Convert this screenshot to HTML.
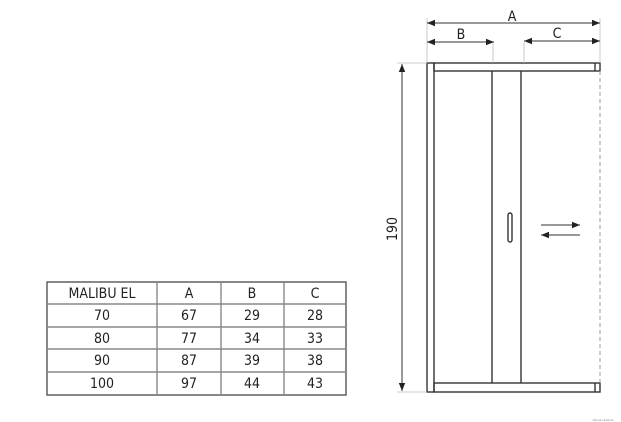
<!DOCTYPE html>
<html><head><style>
body{margin:0;background:#fff;width:621px;height:422px;overflow:hidden;font-family:"DejaVu Sans Condensed","Liberation Sans",sans-serif}
</style></head><body>
<svg width="621" height="422" viewBox="0 0 621 422" style="position:absolute;left:0;top:0">
<defs>
<marker id="a" viewBox="0 0 10 10" refX="10" refY="5" markerWidth="8" markerHeight="8" orient="auto-start-reverse"><path d="M0,1 L10,5 L0,9z" fill="#222"/></marker>
</defs>
<g stroke="#333" fill="none" stroke-width="1.4">
<rect x="47" y="282" width="299" height="113" stroke="#555"/>
<g stroke="#888">
<line x1="47" y1="304" x2="346" y2="304"/><line x1="47" y1="327" x2="346" y2="327"/>
<line x1="47" y1="349" x2="346" y2="349"/><line x1="47" y1="372" x2="346" y2="372"/>
<line x1="157" y1="282" x2="157" y2="395"/><line x1="221" y1="282" x2="221" y2="395"/><line x1="284" y1="282" x2="284" y2="395"/>
</g>
<rect x="427" y="63" width="7" height="329"/>
<rect x="434" y="63" width="166" height="8"/>
<rect x="434" y="383" width="166" height="9"/>
<line x1="595" y1="63" x2="595" y2="71"/><line x1="595" y1="383" x2="595" y2="392"/>
<line x1="492" y1="71" x2="492" y2="383"/><line x1="521" y1="71" x2="521" y2="383"/>
<line x1="600" y1="71" x2="600" y2="383" stroke="#999" stroke-dasharray="4,3" stroke-width="1"/>
<rect x="508" y="213" width="4" height="29" rx="2"/>
<line x1="541" y1="225" x2="580" y2="225" marker-end="url(#a)" stroke-width="1"/>
<line x1="541" y1="235" x2="580" y2="235" marker-start="url(#a)" stroke-width="1"/>
<g stroke="#bbb" stroke-width="0.8">
<line x1="427" y1="18" x2="427" y2="63"/><line x1="600" y1="18" x2="600" y2="63"/>
<line x1="493" y1="42" x2="493" y2="63"/><line x1="524" y1="42" x2="524" y2="63"/>
<line x1="397" y1="63" x2="427" y2="63"/><line x1="397" y1="392" x2="427" y2="392"/>
</g>
<g stroke-width="1">
<line x1="427" y1="23" x2="600" y2="23" marker-start="url(#a)" marker-end="url(#a)"/>
<line x1="427" y1="42" x2="494" y2="42" marker-start="url(#a)" marker-end="url(#a)"/>
<line x1="524" y1="41" x2="600" y2="41" marker-start="url(#a)" marker-end="url(#a)"/>
<line x1="402" y1="64" x2="402" y2="391" marker-start="url(#a)" marker-end="url(#a)"/>
</g>
</g>
<g fill="#222" font-size="14" text-anchor="middle">
<text x="512" y="21">A</text><text x="461" y="39">B</text><text x="557" y="38">C</text>
<text transform="translate(397,229) rotate(-90)" text-anchor="middle">190</text>
<text x="102" y="298">MALIBU EL</text><text x="189" y="298">A</text><text x="252" y="298">B</text><text x="315" y="298">C</text>
<text x="102" y="320">70</text><text x="189" y="320">67</text><text x="252" y="320">29</text><text x="315" y="320">28</text>
<text x="102" y="343">80</text><text x="189" y="343">77</text><text x="252" y="343">34</text><text x="315" y="343">33</text>
<text x="102" y="365">90</text><text x="189" y="365">87</text><text x="252" y="365">39</text><text x="315" y="365">38</text>
<text x="102" y="388">100</text><text x="189" y="388">97</text><text x="252" y="388">44</text><text x="315" y="388">43</text>
<text x="603" y="421" font-size="3" fill="#888">Mynak Lazanka</text>
</g>
</svg>
</body></html>
